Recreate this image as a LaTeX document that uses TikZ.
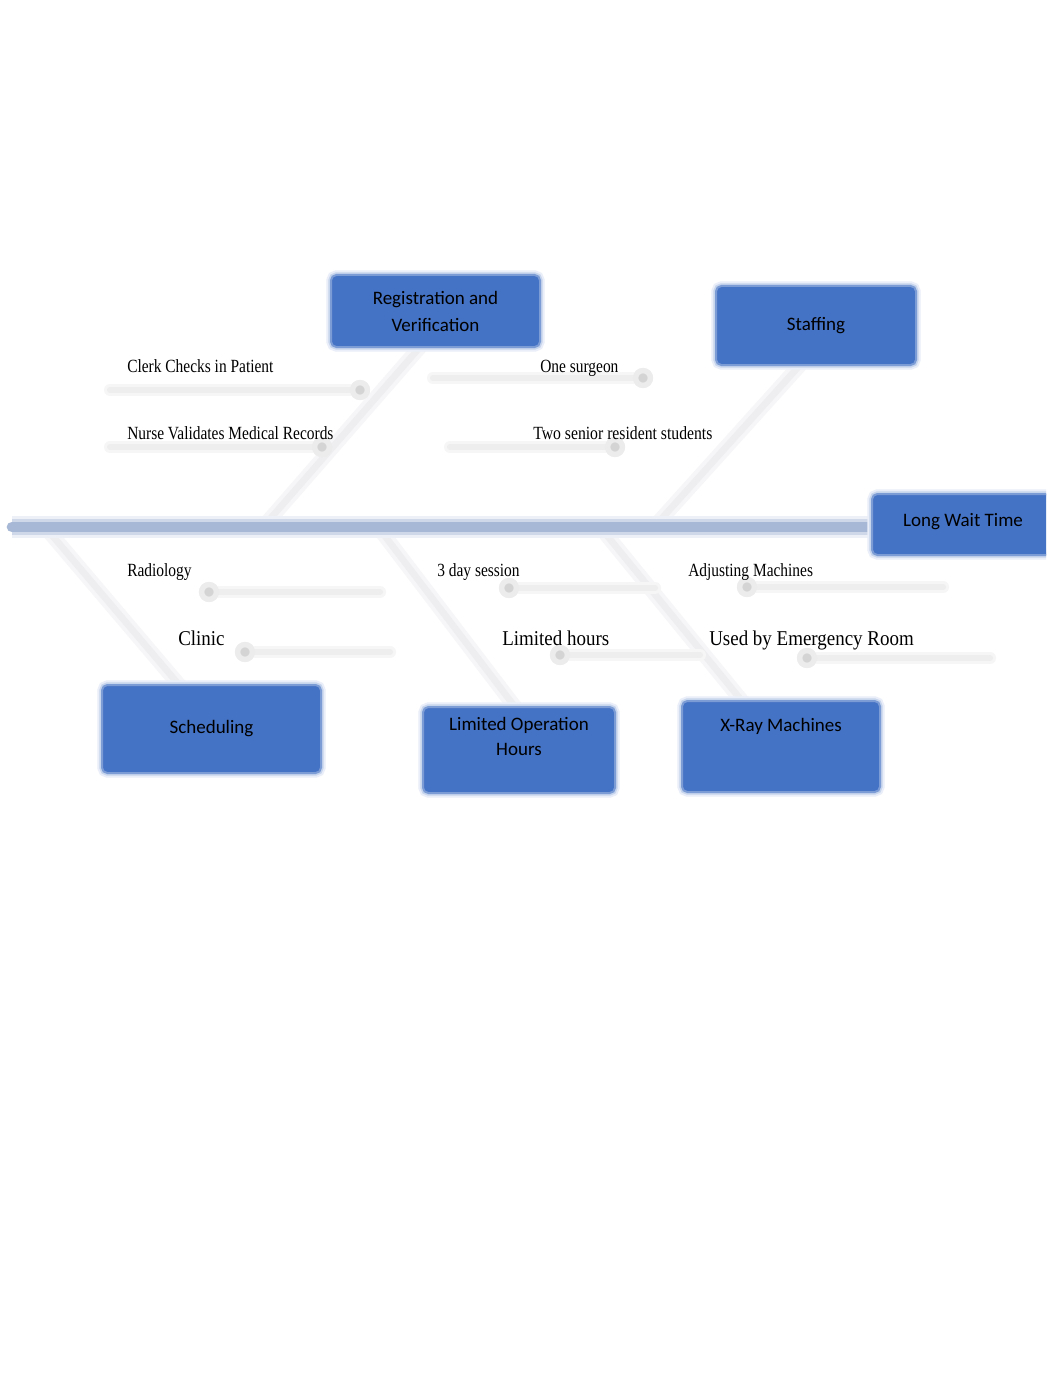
\documentclass[tikz,border=0pt]{standalone}
\usepackage{fontspec}
\setmainfont{Liberation Serif}
\newfontfamily\boxfont{Carlito}
\usepackage{graphicx}
\definecolor{boxblue}{HTML}{4472C4}
\definecolor{spinec}{HTML}{A6B8D5}
\definecolor{bonegray}{HTML}{EEEEF0}
\definecolor{subgray}{HTML}{EEEEEE}
\definecolor{blobgray}{HTML}{D4D4D4}
\newcommand\smallLbl[1]{\scalebox{0.83}[1]{#1}}
\newcommand\bigLbl[1]{\scalebox{0.9}[1]{#1}}
\begin{document}
\begin{tikzpicture}[x=0.75pt,y=-0.75pt,
  box/.style={preaction={draw=boxblue!12, line width=7pt, rounded corners=6pt},
    preaction={draw=boxblue!30, line width=4pt, rounded corners=5pt},
    fill=boxblue, draw=boxblue!70, line width=1.5pt, rounded corners=4pt, inner sep=0pt,
    font=\boxfont\fontsize{14.25}{20.25}\selectfont, text=black, align=center},
  boxtext/.style={inner sep=0pt, font=\boxfont\fontsize{14.25}{18.75}\selectfont, text=black, align=center},
  spine/.style={preaction={draw=spinec!20, line width=17pt}, preaction={draw=spinec!55, line width=12pt}, draw=spinec, line width=8pt},
  bone/.style={preaction={draw=bonegray!50, line width=11pt, line cap=round}, draw=bonegray, line width=5pt, line cap=round},
  sub/.style={preaction={draw=subgray!50, line width=9pt, line cap=round}, draw=subgray, line width=4.5pt, line cap=round},
  blob/.style={circle, fill=blobgray, draw=blobgray!45, line width=4pt, minimum size=11pt, inner sep=0pt},
  slbl/.style={anchor=base west, inner sep=0pt, font=\fontsize{13.95}{16}\selectfont},
  blbl/.style={anchor=base west, inner sep=0pt, font=\fontsize{15.8}{18}\selectfont}]
\useasboundingbox (0,0) rectangle (1062,1376);
\fill[white] (0,0) rectangle (1062,1376);
\begin{scope}
\clip (0,0) rectangle (1046,1376);
% spine coordinates
\coordinate (tail) at (12,527);
\coordinate (head) at (880,527);
\coordinate (sp1) at (263,527);
\coordinate (sp2) at (654,527);
\coordinate (sp3) at (45,527);
\coordinate (sp4) at (378,527);
\coordinate (sp5) at (600,527);
\coordinate (regfoot) at (420,347);
\coordinate (stafffoot) at (800,365);
\coordinate (schedtop) at (180,686);
\coordinate (limoptop) at (515,707);
\coordinate (xraytop) at (742,701);
% bones
\draw[bone] (sp1) -- (regfoot);
\draw[bone] (sp2) -- (stafffoot);
\draw[bone] (sp3) -- (schedtop);
\draw[bone] (sp4) -- (limoptop);
\draw[bone] (sp5) -- (xraytop);
% spine
\draw[spine, line cap=round] (tail) -- (head);
% sub causes
\coordinate (t1) at (110,390);  \node[blob] (h1) at (360,390) {};
\coordinate (t2) at (110,447);  \node[blob] (h2) at (322,447) {};
\coordinate (t3) at (433,378);  \node[blob] (h3) at (643,378) {};
\coordinate (t4) at (450,447);  \node[blob] (h4) at (615,447) {};
\coordinate (t5) at (380,592);  \node[blob] (h5) at (209,592) {};
\coordinate (t6) at (390,652);  \node[blob] (h6) at (245,652) {};
\coordinate (t7) at (655,588);  \node[blob] (h7) at (509,588) {};
\coordinate (t8) at (700,655);  \node[blob] (h8) at (560,655) {};
\coordinate (t9) at (943,587);  \node[blob] (h9) at (747,587) {};
\coordinate (t10) at (990,658); \node[blob] (h10) at (807,658) {};
\foreach \i in {1,...,10} {\draw[sub] (t\i) -- (h\i.center);}
\foreach \i in {1,...,10} {\node[blob] at (h\i) {};}
% labels
\node[slbl] (l1) at (127,372) {\smallLbl{Clerk Checks in Patient}};
\node[slbl] (l2) at (127,439) {\smallLbl{Nurse Validates Medical Records}};
\node[slbl] (l3) at (540,372) {\smallLbl{One surgeon}};
\node[slbl] (l4) at (533,439) {\scalebox{0.845}[1]{Two senior resident students}};
\node[slbl] (l5) at (127,576) {\smallLbl{Radiology}};
\node[blbl] (l6) at (178,645.5) {\bigLbl{Clinic}};
\node[slbl] (l7) at (437,576) {\smallLbl{3 day session}};
\node[blbl] (l8) at (502,645.5) {\bigLbl{Limited hours}};
\node[slbl] (l9) at (688,576) {\smallLbl{Adjusting Machines}};
\node[blbl] (l10) at (709,645.5) {\bigLbl{Used by Emergency Room}};
% boxes
\node[box, minimum width=156.75pt, minimum height=54pt] (reg) at (435.5,311) {Registration and\\Verification};
\node[box, minimum width=150pt, minimum height=59.25pt] (staff) at (816,325.5) {Staffing};
\node[box, minimum width=148.5pt, minimum height=45.75pt] (lwt) at (971,524.5) {};
\node[boxtext] (lwtT) at (963,522) {Long Wait Time};
\node[box, minimum width=164.25pt, minimum height=66pt] (sched) at (211.5,729) {Scheduling};
\node[box, minimum width=144pt, minimum height=64.5pt] (limop) at (519,750) {};
\node[boxtext] (limopT) at (519,736.5) {Limited Operation\\Hours};
\node[box, minimum width=148.5pt, minimum height=68.25pt] (xray) at (781,746.5) {};
\node[boxtext] (xrayT) at (781,726) {X-Ray Machines};
\end{scope}
\end{tikzpicture}
\end{document}
